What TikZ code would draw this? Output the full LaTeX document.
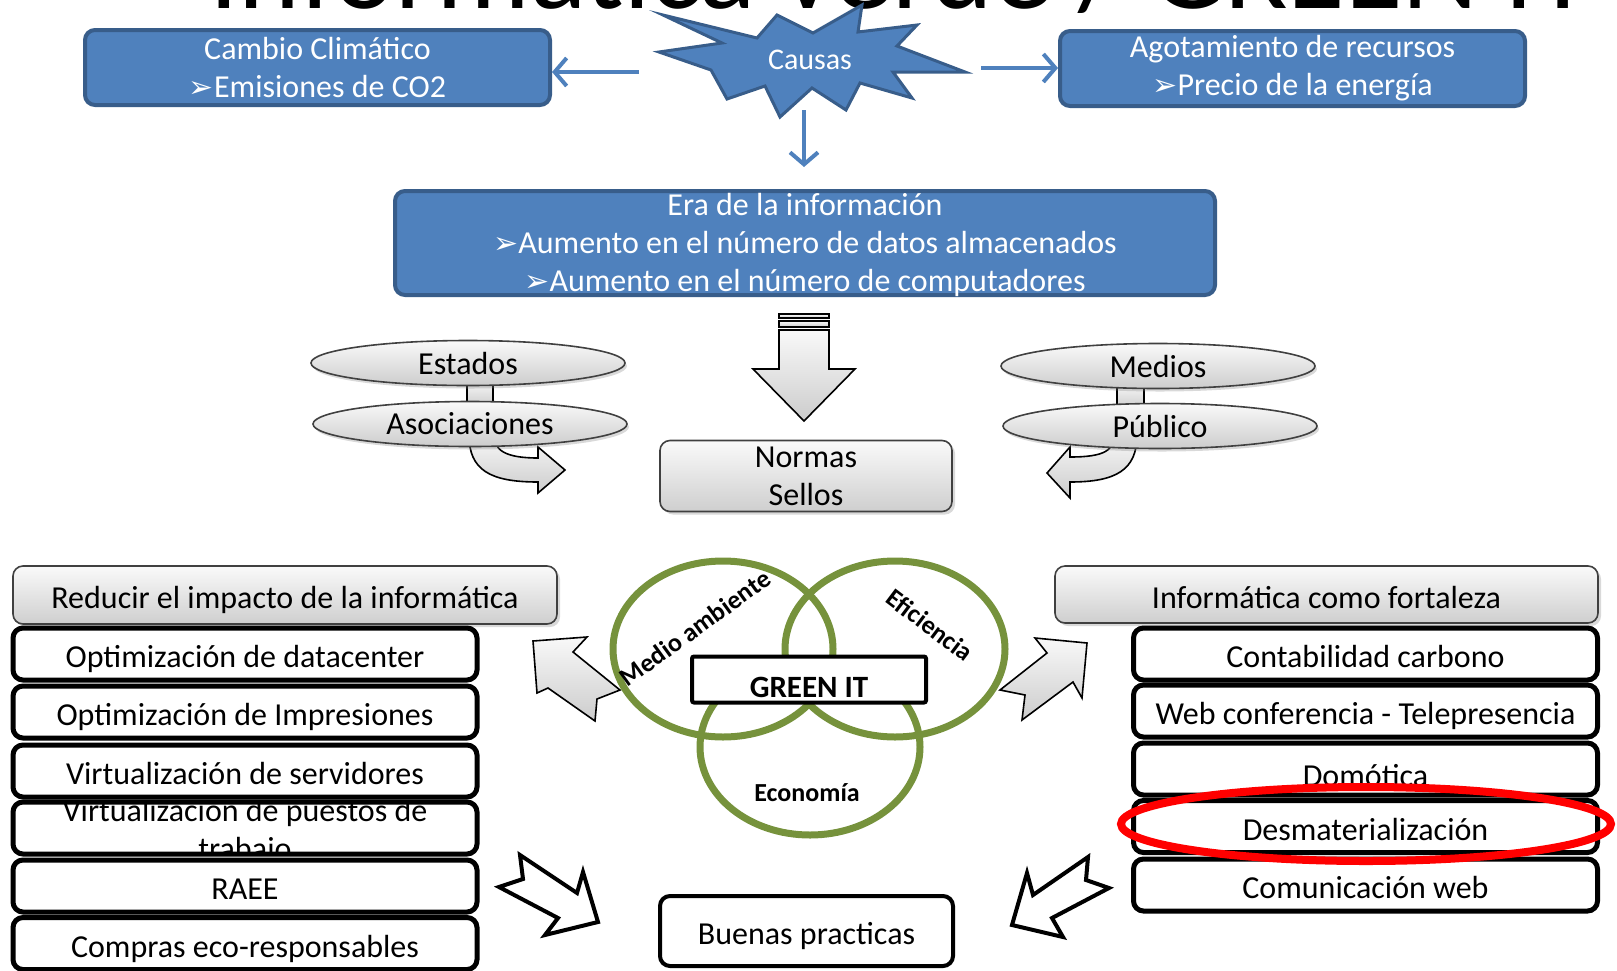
\documentclass[tikz,border=0pt]{standalone}
\usepackage{fontspec}
\setmainfont{Carlito}
\newfontfamily\symfont{DejaVu Sans}
\usetikzlibrary{shapes.geometric,arrows.meta,shadows}

\pgfdeclarelayer{background}
\pgfsetlayers{background,main}

\definecolor{boxblue}{RGB}{79,129,189}
\definecolor{boxline}{RGB}{56,93,138}
\definecolor{venngreen}{RGB}{118,146,60}

\newcommand{\bul}{{\symfont\fontsize{15}{15}\selectfont ➢}}

\tikzset{
  txt/.style={font=\fontsize{16}{19}\selectfont, align=center, inner sep=0pt},
  oneline/.style={text height=13.5pt, text depth=0pt},
  bluebox/.style={txt, draw=boxline, line width=2pt, fill=boxblue, text=white, rounded corners=5pt},
  graybox/.style={txt, draw=black!75, line width=0.8pt, top color=gray!4, bottom color=gray!38, rounded corners=5pt,
    drop shadow={shadow xshift=1.5pt, shadow yshift=-1.5pt, opacity=0.3}},
  pill/.style={txt, ellipse, draw=black!75, line width=0.8pt, top color=gray!4, bottom color=gray!40,
    minimum width=157pt, minimum height=22.5pt, drop shadow={shadow xshift=1pt, shadow yshift=-1.5pt, opacity=0.3}},
  listbox/.style={txt, oneline, draw=black, line width=2.5pt, fill=white, rounded corners=5pt, minimum width=232pt, minimum height=26pt},
  venn/.style={ellipse, draw=venngreen, line width=3.5pt, minimum width=110pt, minimum height=88pt, inner sep=0pt},
  vlabel/.style={font=\bfseries\fontsize{13}{15}\selectfont, inner sep=0pt},
  link/.style={draw=boxblue, line width=2pt, -{Straight Barb[length=6pt,width=14pt]}},
  grayarrow/.style={draw=black, line width=0.8pt, top color=gray!5, bottom color=gray!40, line join=miter},
  openarrow/.style={draw=black, line width=2pt, fill=white, line join=miter},
}

\begin{document}
\begin{tikzpicture}[x=0.5pt, y=-0.5pt]
\useasboundingbox (0,0) rectangle (1617,970);

% title, cut by the top edge
\begin{scope}
\clip (0,0) rectangle (1617,970);
\node[anchor=base west, inner sep=0pt, font=\fontsize{58.7}{60}\selectfont] (titulo) at (209,8) {Informática verde / GREEN IT};
\end{scope}

% causas
\draw[draw=boxline, fill=boxblue, line width=1.5pt, line join=miter] (663,15) -- (722,43) -- (659,52) -- (711,70) -- (727,99)
  -- (765,86) -- (780,117) -- (812,88) -- (846,110) -- (860,83) -- (912,98) -- (893,72) -- (965,72) -- (897,46)
  -- (917,25) -- (858,32) -- (862,5) -- (813,33) -- (777,15) -- (757,38) -- cycle;
\node[font=\fontsize{15}{18}\selectfont, text=white] (causas) at (810,60) {Causas};

\node[bluebox, minimum width=232.5pt, minimum height=37.5pt] (cambio) at (317.5,67.5) {Cambio Climático\\\bul Emisiones de CO2};
\node[bluebox, minimum width=232.5pt, minimum height=37.5pt] (agota) at (1292.5,68.5) {Agotamiento de recursos\\\bul Precio de la energía};
\node[bluebox, minimum width=410pt, minimum height=52pt] (era) at (805,243) {};
\node[txt, text=white] (eratxt) at (805,245) {Era de la información\\\bul Aumento en el número de datos almacenados\\\bul Aumento en el número de computadores};

\coordinate (cizq) at (639,72);
\coordinate (cder) at (981,68);
\coordinate (cbaj) at (804,110);
\draw[link] (cizq) -- (cambio.east |- cizq);
\draw[link] (cder) -- (agota.west |- cder);
\draw[link, shorten >=11pt] (cbaj) -- (cbaj |- era.north);

% normas
\draw[grayarrow] (779,314) rectangle (829,318);
\draw[grayarrow] (779,321) rectangle (829,327);
\draw[grayarrow] (779,330) -- (829,330) -- (829,369) -- (855,369) -- (804,421) -- (753,369) -- (779,369) -- cycle;
\node[graybox, minimum width=146pt, minimum height=35.5pt] (normas) at (806,476) {Normas\\Sellos};

\node[pill] (estados) at (468,363) {Estados};
\node[pill] (asoc) at (470,424) {Asociaciones};
\node[pill] (medios) at (1158,366) {Medios};
\node[pill] (publico) at (1160,426) {Público};
\begin{pgfonlayer}{background}
\draw[grayarrow] ([xshift=-0.5pt,yshift=3pt]estados.south) rectangle ([xshift=11.5pt,yshift=-3pt]asoc.north);
\draw[grayarrow] ([xshift=-20.5pt,yshift=3pt]medios.south) rectangle ([xshift=-8pt,yshift=-3pt]publico.north);
\draw[grayarrow] (469,435) .. controls (469,470) and (490,482) .. (538,482) -- (538,493) -- (565,470) -- (538,447)
  -- (538,458) .. controls (505,458) and (494,450) .. (494,435) -- cycle;
\draw[grayarrow] (1137,435) .. controls (1137,470) and (1116,482) .. (1070,482) -- (1070,498) -- (1047,473) -- (1070,447)
  -- (1070,457) .. controls (1105,457) and (1114,450) .. (1114,435) -- cycle;
\end{pgfonlayer}

% green it
\node[graybox, oneline, minimum width=272pt, minimum height=29pt] (reducir) at (285,595) {Reducir el impacto de la informática};
\node[graybox, oneline, minimum width=271.5pt, minimum height=28.5pt] (fortaleza) at (1326.5,594.5) {Informática como fortaleza};
\draw[grayarrow] (533,641) -- (587,637) -- (573,652) -- (620,690) -- (597,699) -- (595,721) -- (548,688) -- (537,693) -- cycle;
\draw[grayarrow] (1087,643) -- (1082,698) -- (1073,682) -- (1022,720) -- (1025,695) -- (1000,690) -- (1047,653) -- (1035,638) -- cycle;

\node[venn] (vmedio) at (723,649) {};
\node[venn] (vefic) at (895,649) {};
\node[venn] (vecon) at (810,747) {};
\node[draw, line width=2pt, fill=white, minimum width=117pt, minimum height=23pt, inner sep=0pt, rounded corners=1pt] (greenit) at (809,679.5) {};
\node[font=\bfseries\fontsize{15.5}{18}\selectfont, anchor=base, inner sep=0pt] (greentxt) at (809,697) {GREEN IT};
\node[vlabel, rotate=36] (lmedio) at (695,628) {Medio ambiente};
\node[vlabel, rotate=-37] (lefic) at (930,625) {Eficiencia};
\node[vlabel] (lecon) at (807,793) {Economía};

% listas
\node[listbox] (datacenter) at (245,654) {Optimización de datacenter};
\node[listbox] (impresiones) at (245,712) {Optimización de Impresiones};
\node[listbox] (servidores) at (245,771) {Virtualización de servidores};
\node[listbox, path picture={\node[txt, draw=none, fill=none, minimum width=0pt, minimum height=0pt, rounded corners=0pt,
  text height=, text depth=] at ([yshift=-2pt]path picture bounding box.center) {Virtualización de puestos de\\trabajo};}] (puestos) at (245,828) {};
\node[listbox] (raee) at (245,886) {RAEE};
\node[listbox] (compras) at (245,943.5) {Compras eco-responsables};

\node[listbox] (carbono) at (1365.5,654) {Contabilidad carbono};
\node[listbox] (webconf) at (1365.5,711) {Web conferencia - Telepresencia};
\node[listbox] (domotica) at (1365.5,769) {\raisebox{-2pt}{Domótica}};
\node[listbox] (desmat) at (1365.5,826.5) {Desmaterialización};
\node[listbox] (comweb) at (1365.5,885) {Comunicación web};
\node[ellipse, draw=red, line width=4pt, minimum width=245pt, minimum height=37pt, inner sep=0pt] (marca) at (1366,824) {};

% buenas practicas
\draw[openarrow] (520,855) -- (577,893) -- (583,872) -- (598,922) -- (545,935) -- (558,918) -- (499,887) -- (523,879) -- cycle;
\draw[openarrow] (1088,857) -- (1086,880) -- (1109,888) -- (1052,918) -- (1063,937) -- (1012,925) -- (1027,873) -- (1033,895) -- cycle;
\node[listbox, line width=2pt, minimum width=146.5pt, minimum height=35pt] (buenas) at (806.5,931) {Buenas practicas};

\end{tikzpicture}
\end{document}
